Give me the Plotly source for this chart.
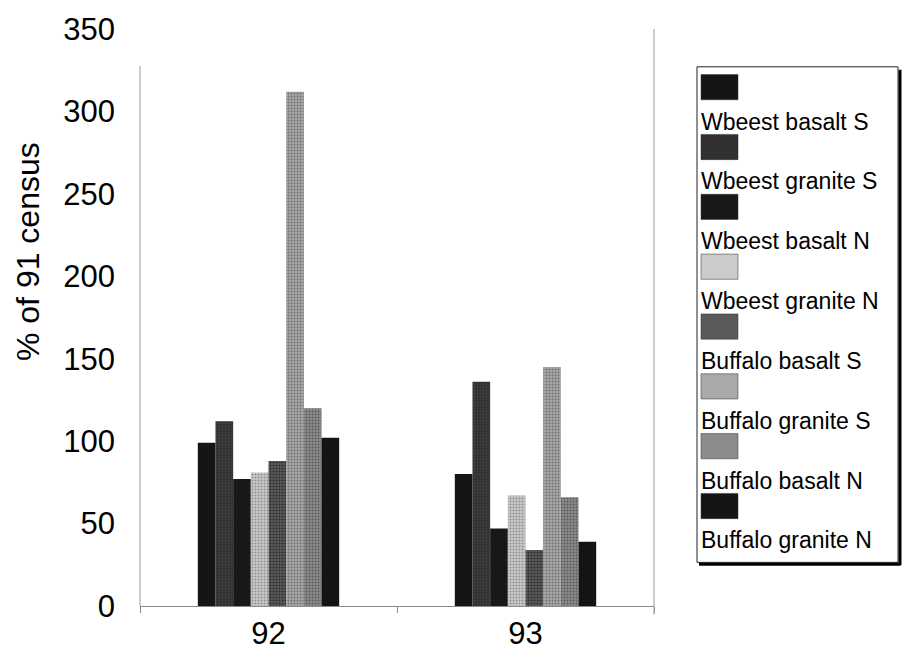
import plotly.graph_objects as go

# Census years (x categories)
years = ["92", "93"]

# Series names, in legend order
series_names = [
    "Wbeest basalt S",
    "Wbeest granite S",
    "Wbeest basalt N",
    "Wbeest granite N",
    "Buffalo basalt S",
    "Buffalo granite S",
    "Buffalo basalt N",
    "Buffalo granite N",
]

# % of the 1991 census, per series, for 92 and 93
wbeest_basalt_s = [99, 80]
wbeest_granite_s = [112, 136]
wbeest_basalt_n = [77, 47]
wbeest_granite_n = [81, 67]
buffalo_basalt_s = [88, 34]
buffalo_granite_s = [312, 145]
buffalo_basalt_n = [120, 66]
buffalo_granite_n = [102, 39]

series_values = [
    wbeest_basalt_s, wbeest_granite_s, wbeest_basalt_n, wbeest_granite_n,
    buffalo_basalt_s, buffalo_granite_s, buffalo_basalt_n, buffalo_granite_n,
]

# Grey fills (base colour, dot colour or None for a solid fill)
fills = ["#151515", "#303030", "#181818", "#cbcbcb",
         "#5a5a5a", "#a9a9a9", "#8c8c8c", "#141414"]
dots = [None, "#444444", None, "#8e8e8e",
        "#2e2e2e", "#6e6e6e", "#5a5a5a", None]

y_ticks = [0, 50, 100, 150, 200, 250, 300, 350]

W, H = 905, 663
L, R, T, B = 140, 654, 22, 617  # plot-area edges in pixels

def px(x):
    return (x - L) / (R - L)

def py(y):
    return (B - y) / (B - T)

FONT = "Arial, Liberation Sans, sans-serif"

fig = go.Figure()
for name, vals, fc, dc in zip(series_names, series_values, fills, dots):
    marker = dict(color=fc, line=dict(width=0))
    if dc is not None:
        marker["pattern"] = dict(shape=".", fgcolor=dc, bgcolor=fc,
                                 size=3, solidity=0.35, fillmode="replace")
    fig.add_trace(go.Bar(x=years, y=vals, name=name, marker=marker,
                         showlegend=False))

shapes = []
annotations = []

# Axis frame: left and right verticals
shapes.append(dict(type="line", xref="paper", yref="paper",
                   x0=0, x1=0, y0=0, y1=py(60),
                   line=dict(color="#9a9a9a", width=1)))
shapes.append(dict(type="line", xref="paper", yref="paper",
                   x0=1, x1=1, y0=py(626), y1=1,
                   line=dict(color="#9a9a9a", width=1)))

# Hand-laid legend: swatch above each label
lx0, lx1, ly0, ly1 = 697, 898, 61, 572
shapes.append(dict(type="rect", xref="paper", yref="paper",
                   x0=px(lx0), x1=px(lx1), y0=py(ly1), y1=py(ly0),
                   fillcolor="white", line=dict(color="#222222", width=1)))
shapes.append(dict(type="line", xref="paper", yref="paper",
                   x0=px(lx0 + 2), x1=px(lx1 + 2), y0=py(ly1 + 2), y1=py(ly1 + 2),
                   line=dict(color="#000000", width=3)))
shapes.append(dict(type="line", xref="paper", yref="paper",
                   x0=px(lx1 + 2), x1=px(lx1 + 2), y0=py(ly0 + 3), y1=py(ly1 + 3),
                   line=dict(color="#000000", width=3)))

pitch = 61.7
for i, (name, fc) in enumerate(zip(series_names, fills)):
    top = 69 + pitch * i
    shapes.append(dict(type="rect", xref="paper", yref="paper",
                       x0=px(701), x1=px(738), y0=py(top + 26), y1=py(top),
                       fillcolor=fc, line=dict(color="#333333", width=0.5)))
    annotations.append(dict(xref="paper", yref="paper",
                            x=px(699), y=py(top + 48.5),
                            xanchor="left", yanchor="middle", showarrow=False,
                            text=name, font=dict(family=FONT, size=23, color="#000000")))

# Y-axis title
annotations.append(dict(xref="paper", yref="paper", x=px(28), y=py(252),
                        xanchor="center", yanchor="middle", showarrow=False,
                        textangle=-90, text="% of 91 census",
                        font=dict(family=FONT, size=32, color="#000000")))

fig.update_layout(
    width=W, height=H,
    margin=dict(l=L, r=W - R, t=T, b=H - B, pad=0),
    paper_bgcolor="white", plot_bgcolor="white",
    barmode="group", bargap=0.45, bargroupgap=0,
    font=dict(family=FONT, color="#000000"),
    shapes=shapes, annotations=annotations,
    showlegend=False,
)
fig.update_xaxes(
    type="category", showgrid=False, zeroline=False,
    showline=True, linecolor="#8a8a8a", linewidth=1,
    ticks="outside", tickson="boundaries", ticklen=6, tickcolor="#8a8a8a",
    tickfont=dict(family=FONT, size=31, color="#000000"),
)
fig.update_yaxes(
    range=[0, 350], tickvals=y_ticks, showgrid=False, zeroline=False,
    showline=False, ticks="", ticklabelstandoff=24,
    tickfont=dict(family=FONT, size=31, color="#000000"),
)

fig.write_html("out.html")
